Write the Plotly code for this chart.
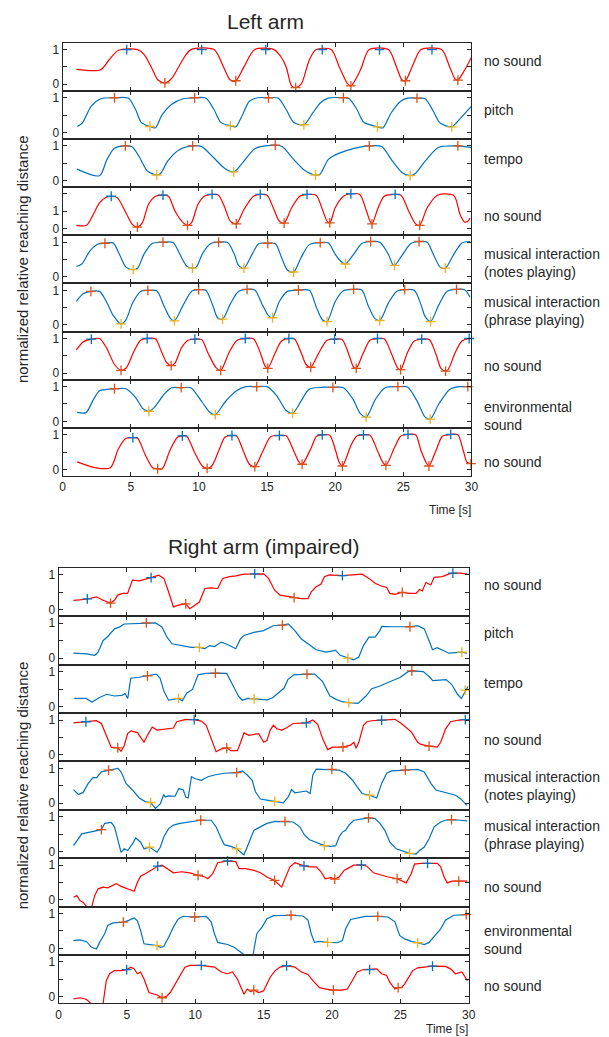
import plotly.graph_objects as go

RED = "#FF0000"
BLUE = "#0072BD"
ORANGE = "#D95319"
YELLOW = "#EDB120"
AXC = "#262626"
FONT = "Liberation Sans, Arial, Helvetica, sans-serif"

# ---------------- LEFT ARM ----------------
L1_t = [1.0, 2.8, 3.4, 4.1, 5.5, 6.0, 6.6, 7.0, 7.5, 8.0, 8.8, 9.4, 11.1, 11.8, 12.3, 12.7, 13.3, 14.1, 15.5, 16.0, 16.4, 16.8, 17.1, 17.5, 18.1, 18.6, 19.7, 20.3, 20.9, 21.15, 21.85, 22.5, 23.9, 24.5, 24.9, 25.15, 25.75, 26.3, 27.8, 28.4, 28.8, 29.0, 29.5, 30.0]
L1_y = [0.43, 0.42, 0.7, 0.98, 1.0, 0.85, 0.41, 0.12, 0.04, 0.17, 0.7, 1.0, 1.0, 0.5, 0.12, 0.1, 0.5, 1.0, 1.0, 0.8, 0.5, -0.05, -0.1, 0.0, 0.7, 1.0, 1.0, 0.5, 0.02, -0.05, 0.41, 1.0, 1.0, 0.5, 0.12, 0.1, 0.6, 1.0, 1.0, 0.5, 0.15, 0.12, 0.41, 0.78]
L1_pk_t = [4.7, 10.2, 14.9, 19.05, 23.25, 27.1]
L1_pk_y = [1.0, 1.0, 1.0, 1.0, 1.0, 1.0]
L1_tr_t = [7.5, 12.7, 17.1, 21.15, 25.15, 29.0]
L1_tr_y = [0.04, 0.1, -0.1, -0.05, 0.1, 0.12]

L2_t = [1.06, 1.43, 2.1, 2.8, 3.8, 4.8, 5.35, 5.76, 6.4, 6.8, 7.3, 8.0, 8.84, 9.68, 10.5, 11.1, 11.6, 12.3, 12.7, 13.2, 13.7, 14.3, 15.1, 15.8, 16.4, 16.95, 17.7, 18.35, 18.9, 19.5, 20.6, 21.0, 21.6, 22.1, 23.1, 23.5, 24.1, 24.8, 25.3, 26.0, 26.6, 27.2, 27.7, 28.56, 29.1, 30.0]
L2_y = [0.17, 0.27, 0.76, 0.97, 1.0, 0.99, 0.66, 0.29, 0.17, 0.13, 0.51, 0.81, 0.97, 1.0, 0.99, 0.66, 0.29, 0.19, 0.16, 0.51, 0.9, 1.0, 1.0, 0.99, 0.66, 0.29, 0.22, 0.56, 0.85, 0.99, 1.0, 0.98, 0.66, 0.29, 0.16, 0.13, 0.56, 0.9, 0.99, 0.99, 0.97, 0.61, 0.27, 0.16, 0.37, 0.76]
L2_pk_t = [3.8, 9.68, 15.1, 20.6, 26.0]
L2_pk_y = [1.0, 1.0, 1.0, 1.0, 0.99]
L2_tr_t = [6.4, 12.3, 17.7, 23.1, 28.56]
L2_tr_y = [0.17, 0.19, 0.22, 0.16, 0.16]

L3_t = [1.06, 2.7, 3.25, 3.8, 4.6, 5.06, 5.6, 6.2, 6.9, 7.2, 7.7, 8.56, 9.54, 10.2, 11.1, 11.9, 12.55, 13.2, 14.15, 15.6, 16.1, 16.95, 17.8, 18.55, 18.9, 19.5, 20.3, 21.4, 22.5, 23.4, 24.2, 24.9, 25.5, 25.9, 26.6, 27.6, 29.0, 30.0]
L3_y = [0.33, 0.14, 0.61, 0.93, 1.0, 0.98, 0.7, 0.28, 0.16, 0.21, 0.56, 0.89, 1.0, 0.98, 0.65, 0.35, 0.25, 0.51, 0.93, 1.02, 0.98, 0.61, 0.28, 0.16, 0.19, 0.61, 0.79, 0.93, 1.0, 0.98, 0.56, 0.23, 0.14, 0.21, 0.56, 0.96, 1.0, 0.95]
L3_pk_t = [4.6, 9.54, 15.6, 22.5, 29.0]
L3_pk_y = [1.0, 1.0, 1.02, 1.0, 1.0]
L3_tr_t = [6.9, 12.55, 18.55, 25.5]
L3_tr_y = [0.16, 0.25, 0.16, 0.14]

L4_t = [1.0, 1.75, 2.24, 2.7, 3.2, 3.56, 4.0, 4.64, 5.12, 5.48, 5.84, 6.3, 6.8, 7.36, 7.76, 8.25, 8.85, 9.16, 9.45, 9.93, 10.4, 10.96, 11.4, 11.85, 12.3, 12.74, 13.3, 14.0, 14.5, 15.0, 15.45, 15.9, 16.25, 16.8, 17.4, 17.93, 18.6, 19.06, 19.4, 19.6, 20.0, 20.6, 21.15, 21.8, 22.3, 22.55, 22.7, 23.15, 23.6, 24.4, 24.83, 25.4, 25.9, 26.2, 26.75, 27.5, 28.7, 29.16, 29.5, 29.75, 29.9]
L4_y = [0.2, 0.2, 0.82, 1.48, 1.8, 1.86, 1.78, 0.92, 0.24, 0.1, 0.34, 1.4, 1.86, 1.92, 1.86, 1.0, 0.34, 0.2, 0.34, 1.4, 1.86, 1.96, 1.94, 1.3, 0.44, 0.28, 1.1, 1.86, 1.96, 1.92, 1.2, 0.44, 0.32, 1.2, 1.86, 1.96, 1.92, 1.1, 0.44, 0.34, 1.2, 1.86, 2.0, 1.96, 1.0, 0.44, 0.28, 1.2, 1.86, 1.96, 1.92, 1.0, 0.28, 0.2, 1.2, 1.92, 1.9, 0.82, 0.38, 0.44, 0.62]
L4_pk_t = [3.56, 7.36, 10.96, 14.5, 17.93, 21.15, 24.4]
L4_pk_y = [1.86, 1.92, 1.96, 1.96, 1.96, 2.0, 1.96]
L4_tr_t = [5.48, 9.16, 12.74, 16.25, 19.6, 22.7, 26.2]
L4_tr_y = [0.1, 0.2, 0.28, 0.32, 0.34, 0.28, 0.2]

L5_t = [1.0, 1.4, 2.0, 2.6, 3.1, 3.7, 4.16, 4.64, 5.17, 5.5, 5.96, 6.56, 7.36, 8.1, 8.6, 9.1, 9.52, 9.8, 10.3, 10.9, 11.44, 12.1, 12.6, 12.9, 13.3, 13.9, 14.4, 15.05, 15.6, 16.06, 16.5, 16.95, 17.5, 18.1, 18.9, 19.5, 20.0, 20.5, 20.75, 21.35, 21.95, 22.6, 23.27, 23.9, 24.2, 24.35, 24.95, 25.55, 26.15, 26.75, 27.2, 27.7, 28.08, 28.7, 29.3, 29.9]
L5_y = [0.3, 0.37, 0.75, 0.95, 0.97, 0.98, 0.65, 0.28, 0.21, 0.25, 0.65, 0.96, 1.0, 0.99, 0.65, 0.31, 0.25, 0.28, 0.7, 0.97, 1.0, 0.99, 0.65, 0.33, 0.25, 0.65, 0.96, 0.97, 0.96, 0.56, 0.19, 0.14, 0.56, 0.93, 0.99, 0.98, 0.65, 0.42, 0.37, 0.65, 0.96, 1.02, 1.0, 0.65, 0.37, 0.33, 0.65, 0.96, 1.02, 1.0, 0.65, 0.28, 0.25, 0.65, 0.98, 1.02]
L5_pk_t = [3.1, 7.36, 11.44, 15.05, 18.9, 22.6, 26.15]
L5_pk_y = [0.97, 1.0, 1.0, 0.97, 0.99, 1.02, 1.02]
L5_tr_t = [5.17, 9.52, 13.3, 16.95, 20.75, 24.35, 28.08]
L5_tr_y = [0.21, 0.25, 0.25, 0.14, 0.37, 0.33, 0.25]

L6_t = [1.0, 1.5, 2.07, 2.7, 3.2, 3.68, 4.28, 4.64, 5.12, 5.72, 6.25, 6.9, 7.4, 7.9, 8.2, 8.85, 9.45, 9.98, 10.5, 11.0, 11.37, 11.73, 12.33, 12.9, 13.53, 14.1, 14.6, 15.1, 15.4, 15.9, 16.5, 17.3, 18.1, 18.6, 19.06, 19.4, 20.0, 20.6, 21.35, 21.95, 22.4, 22.9, 23.27, 23.9, 24.5, 25.1, 25.8, 26.3, 26.6, 27.0, 27.6, 28.2, 28.9, 29.5, 29.9]
L6_y = [0.68, 0.9, 0.97, 0.97, 0.68, 0.29, 0.03, 0.15, 0.63, 0.97, 1.0, 0.99, 0.58, 0.19, 0.12, 0.58, 0.97, 1.02, 1.0, 0.58, 0.21, 0.17, 0.63, 0.97, 1.03, 1.01, 0.63, 0.27, 0.21, 0.68, 0.97, 1.01, 1.0, 0.53, 0.15, 0.1, 0.68, 0.99, 1.03, 1.01, 0.58, 0.19, 0.13, 0.63, 0.97, 1.02, 1.0, 0.58, 0.24, 0.1, 0.58, 0.97, 1.03, 1.02, 0.8]
L6_pk_t = [2.07, 6.25, 9.98, 13.53, 17.3, 21.35, 25.1, 28.9]
L6_pk_y = [0.97, 1.0, 1.02, 1.03, 1.01, 1.03, 1.02, 1.03]
L6_tr_t = [4.28, 8.2, 11.73, 15.4, 19.4, 23.27, 27.0]
L6_tr_y = [0.03, 0.12, 0.17, 0.21, 0.1, 0.13, 0.1]

L7_t = [1.0, 1.5, 2.1, 2.7, 3.2, 3.8, 4.28, 4.64, 5.24, 5.72, 6.2, 6.8, 7.28, 7.64, 7.96, 8.25, 8.73, 9.2, 9.7, 10.2, 10.65, 11.25, 11.6, 12.2, 12.8, 13.4, 14.0, 14.5, 14.86, 15.05, 15.6, 16.06, 16.6, 17.0, 17.5, 17.86, 18.2, 18.8, 19.4, 19.95, 20.5, 21.0, 21.35, 21.54, 22.07, 22.55, 23.1, 23.6, 24.1, 24.6, 24.8, 25.3, 25.8, 26.35, 26.9, 27.4, 27.76, 28.1, 28.3, 28.8, 29.3, 29.83, 29.95]
L7_y = [0.67, 0.9, 0.98, 1.0, 0.74, 0.25, 0.08, 0.14, 0.64, 0.95, 1.0, 0.99, 0.59, 0.3, 0.22, 0.3, 0.74, 0.95, 0.98, 0.97, 0.59, 0.16, 0.08, 0.59, 0.95, 1.0, 0.99, 0.59, 0.2, 0.14, 0.59, 0.93, 1.0, 0.99, 0.59, 0.25, 0.17, 0.59, 0.95, 0.98, 0.97, 0.54, 0.17, 0.14, 0.59, 0.95, 1.0, 0.99, 0.59, 0.14, 0.1, 0.59, 0.93, 0.98, 0.97, 0.54, 0.14, 0.06, 0.11, 0.59, 0.93, 1.0, 1.0]
L7_pk_t = [2.1, 6.2, 9.7, 13.4, 16.6, 19.95, 23.1, 26.35, 29.83]
L7_pk_y = [0.98, 1.0, 0.98, 1.0, 1.0, 0.98, 1.0, 0.98, 1.0]
L7_tr_t = [4.28, 7.96, 11.6, 15.05, 18.2, 21.54, 24.8, 28.1]
L7_tr_y = [0.08, 0.22, 0.08, 0.14, 0.17, 0.14, 0.1, 0.06]

L8_t = [1.06, 1.7, 2.27, 2.7, 3.25, 3.8, 4.64, 5.34, 5.9, 6.32, 6.74, 7.44, 8.0, 8.7, 9.4, 10.24, 10.8, 11.2, 11.9, 12.75, 13.45, 14.24, 15.0, 15.7, 16.4, 16.87, 17.5, 18.07, 18.9, 19.83, 20.6, 21.3, 21.85, 22.27, 22.96, 23.66, 24.6, 25.3, 26.0, 26.6, 26.97, 27.6, 28.4, 29.1, 29.73, 30.0]
L8_y = [0.26, 0.25, 0.64, 0.88, 0.92, 0.94, 0.94, 0.69, 0.36, 0.29, 0.41, 0.78, 0.97, 0.97, 0.97, 0.55, 0.26, 0.19, 0.55, 0.88, 1.0, 1.0, 1.0, 0.74, 0.31, 0.23, 0.59, 0.92, 0.98, 0.98, 0.97, 0.64, 0.22, 0.12, 0.64, 0.97, 1.0, 0.99, 0.59, 0.12, 0.06, 0.5, 0.92, 1.0, 1.0, 1.0]
L8_pk_t = [3.8, 8.7, 14.24, 19.83, 24.6, 29.73]
L8_pk_y = [0.94, 0.97, 1.0, 0.98, 1.0, 1.0]
L8_tr_t = [6.32, 11.2, 16.87, 22.27, 26.97]
L8_tr_y = [0.29, 0.19, 0.23, 0.12, 0.06]

L9_t = [1.06, 2.4, 3.5, 4.08, 4.64, 5.15, 5.5, 6.04, 6.6, 6.97, 7.3, 7.86, 8.42, 8.78, 9.1, 9.68, 10.24, 10.6, 10.94, 11.5, 11.9, 12.42, 12.75, 13.3, 13.7, 14.1, 14.7, 15.27, 15.9, 16.4, 16.95, 17.37, 17.57, 18.2, 18.63, 19.05, 19.6, 20.03, 20.3, 20.53, 21.15, 21.57, 22.07, 22.55, 23.1, 23.5, 23.72, 24.36, 24.8, 25.34, 25.9, 26.3, 26.74, 26.88, 27.44, 27.86, 28.48, 29.0, 29.4, 29.68, 29.96]
L9_y = [0.22, 0.05, 0.05, 0.59, 0.9, 0.92, 0.9, 0.44, 0.05, 0.02, 0.02, 0.54, 0.93, 0.97, 0.96, 0.49, 0.1, 0.03, 0.1, 0.59, 0.93, 0.98, 0.97, 0.49, 0.15, 0.08, 0.54, 0.95, 0.98, 0.97, 0.54, 0.2, 0.15, 0.59, 0.96, 1.0, 0.99, 0.54, 0.2, 0.1, 0.69, 0.96, 1.0, 0.99, 0.54, 0.2, 0.12, 0.64, 0.96, 1.01, 1.0, 0.54, 0.15, 0.1, 0.59, 0.96, 1.01, 1.0, 0.54, 0.2, 0.17]
L9_pk_t = [5.15, 8.78, 12.42, 15.9, 19.05, 22.07, 25.34, 28.48]
L9_pk_y = [0.92, 0.97, 0.98, 0.98, 1.0, 1.0, 1.01, 1.01]
L9_tr_t = [6.97, 10.6, 14.1, 17.57, 20.53, 23.72, 26.88, 29.96]
L9_tr_y = [0.02, 0.03, 0.08, 0.15, 0.1, 0.12, 0.1, 0.17]

# ---------------- RIGHT ARM (IMPAIRED) ----------------
R1_t = [1.09, 2.05, 2.77, 3.25, 3.8, 4.09, 4.33, 4.7, 5.05, 5.4, 5.9, 6.37, 6.77, 7.33, 7.7, 8.05, 8.4, 8.76, 9.3, 9.6, 9.96, 10.3, 10.7, 11.16, 11.64, 12.0, 12.5, 12.96, 13.56, 14.35, 15.0, 15.36, 15.8, 16.2, 16.7, 17.23, 17.76, 18.24, 18.48, 18.84, 19.2, 19.44, 19.8, 20.76, 21.47, 22.2, 22.7, 23.15, 23.6, 24.0, 24.23, 24.6, 25.14, 25.67, 26.15, 26.4, 26.6, 26.87, 27.23, 27.47, 28.07, 28.55, 28.84, 29.4, 29.87]
R1_y = [0.27, 0.3, 0.37, 0.27, 0.19, 0.27, 0.42, 0.47, 0.47, 0.85, 0.83, 0.87, 0.92, 0.99, 0.9, 0.51, 0.08, 0.13, 0.17, 0.03, 0.13, 0.22, 0.61, 0.63, 0.61, 0.9, 0.95, 0.97, 1.02, 1.03, 1.03, 0.9, 0.56, 0.42, 0.39, 0.35, 0.32, 0.32, 0.51, 0.66, 0.74, 0.95, 1.0, 0.98, 1.0, 1.02, 0.9, 0.76, 0.68, 0.64, 0.47, 0.44, 0.5, 0.47, 0.47, 0.58, 0.54, 0.78, 0.71, 0.93, 0.95, 1.03, 1.05, 1.05, 1.02]
R1_pk_t = [2.1, 6.77, 14.35, 20.76, 28.84]
R1_pk_y = [0.31, 0.92, 1.03, 0.98, 1.05]
R1_tr_t = [3.8, 9.3, 17.23, 25.14]
R1_tr_y = [0.19, 0.17, 0.35, 0.5]

R2_t = [1.09, 2.05, 2.65, 2.89, 3.25, 3.6, 4.09, 4.45, 4.8, 5.65, 6.42, 7.09, 7.57, 7.93, 8.3, 9.0, 9.7, 10.3, 10.7, 11.05, 11.4, 11.9, 12.36, 12.96, 13.3, 13.56, 14.28, 15.0, 15.7, 16.37, 16.8, 17.28, 17.76, 18.24, 18.84, 19.56, 20.27, 20.6, 21.16, 21.6, 21.96, 22.3, 22.7, 23.15, 23.5, 23.63, 24.35, 25.7, 26.27, 26.75, 27.1, 27.35, 27.7, 28.07, 28.55, 29.5, 29.87]
R2_y = [0.14, 0.12, 0.08, 0.17, 0.5, 0.62, 0.84, 0.89, 0.98, 0.99, 1.01, 1.01, 0.89, 0.6, 0.41, 0.36, 0.31, 0.31, 0.27, 0.36, 0.33, 0.46, 0.39, 0.27, 0.55, 0.65, 0.74, 0.79, 0.93, 0.95, 0.98, 0.79, 0.55, 0.41, 0.24, 0.17, 0.22, 0.08, 0.0, -0.05, 0.03, 0.36, 0.6, 0.6, 0.79, 0.91, 0.9, 0.9, 0.93, 0.84, 0.5, 0.24, 0.3, 0.24, 0.14, 0.17, 0.14]
R2_pk_t = [6.42, 16.37, 25.7]
R2_pk_y = [1.01, 0.95, 0.9]
R2_tr_t = [10.3, 21.16, 29.5]
R2_tr_y = [0.31, 0.0, 0.17]

R3_t = [1.15, 2.0, 2.46, 2.96, 3.52, 4.08, 4.64, 4.86, 5.06, 5.28, 5.9, 6.5, 6.87, 7.15, 7.43, 7.7, 8.04, 8.4, 8.77, 9.05, 9.38, 9.8, 10.2, 10.77, 11.47, 12.3, 12.74, 13.15, 13.43, 13.85, 14.3, 14.82, 15.25, 15.66, 16.07, 16.5, 16.77, 17.2, 18.17, 18.73, 19.3, 19.85, 20.26, 20.8, 21.23, 21.9, 22.49, 22.9, 23.46, 24.16, 25.0, 25.56, 25.84, 26.67, 27.1, 27.37, 28.34, 28.76, 29.18, 29.46, 29.74, 29.96]
R3_y = [0.23, 0.23, 0.13, 0.25, 0.35, 0.3, 0.32, 0.37, 0.23, 0.81, 0.84, 0.88, 0.91, 0.93, 0.81, 0.44, 0.18, 0.21, 0.23, 0.16, 0.39, 0.49, 0.91, 0.95, 0.96, 0.95, 0.63, 0.3, 0.18, 0.23, 0.22, 0.21, 0.19, 0.25, 0.39, 0.53, 0.77, 0.91, 0.93, 0.93, 0.72, 0.3, 0.21, 0.13, 0.11, 0.09, 0.3, 0.51, 0.58, 0.69, 0.84, 1.0, 1.02, 1.0, 0.86, 0.74, 0.77, 0.63, 0.35, 0.23, 0.42, 0.58]
R3_pk_t = [6.5, 11.47, 18.17, 25.84]
R3_pk_y = [0.88, 0.96, 0.93, 1.02]
R3_tr_t = [8.77, 14.3, 21.23, 29.74]
R3_tr_y = [0.23, 0.22, 0.11, 0.47]

R4_t = [1.09, 2.0, 2.77, 3.13, 3.5, 3.85, 4.33, 4.57, 4.8, 5.05, 5.3, 5.77, 6.08, 6.25, 6.5, 6.85, 7.2, 7.8, 8.4, 8.64, 9.24, 9.92, 10.44, 10.8, 11.16, 11.52, 11.9, 12.3, 12.6, 13.08, 13.32, 13.56, 13.92, 14.28, 14.64, 15.0, 15.24, 15.48, 15.72, 15.96, 16.32, 16.68, 17.16, 18.12, 18.6, 18.96, 19.32, 19.68, 20.04, 20.8, 21.35, 21.6, 21.76, 21.96, 22.3, 22.55, 22.9, 23.63, 24.6, 25.07, 25.8, 26.27, 26.5, 27.1, 27.7, 27.95, 28.3, 28.67, 29.27, 29.75, 29.9]
R4_y = [0.92, 0.95, 0.98, 0.9, 0.56, 0.22, 0.2, 0.1, 0.26, 0.61, 0.69, 0.64, 0.46, 0.36, 0.56, 0.8, 0.71, 0.74, 0.77, 0.95, 1.01, 1.01, 0.97, 0.85, 0.46, 0.09, 0.17, 0.2, 0.12, 0.12, 0.36, 0.63, 0.56, 0.58, 0.61, 0.36, 0.41, 0.71, 0.85, 0.75, 0.71, 0.78, 0.9, 0.92, 1.0, 0.87, 0.46, 0.15, 0.22, 0.22, 0.28, 0.36, 0.19, 0.36, 0.85, 0.95, 0.98, 1.0, 1.02, 0.9, 0.66, 0.36, 0.3, 0.25, 0.22, 0.36, 0.74, 0.95, 1.0, 1.01, 1.01]
R4_pk_t = [2.0, 9.92, 18.12, 23.63, 29.75]
R4_pk_y = [0.95, 1.01, 0.92, 1.0, 1.01]
R4_tr_t = [4.33, 12.3, 20.8, 27.1]
R4_tr_y = [0.2, 0.2, 0.22, 0.25]

R5_t = [1.09, 1.45, 1.8, 2.17, 2.53, 2.77, 3.13, 3.66, 4.33, 4.57, 4.93, 5.4, 5.9, 6.37, 6.73, 7.09, 7.45, 7.69, 7.8, 8.05, 8.52, 8.8, 9.12, 9.3, 9.48, 9.72, 9.96, 10.44, 10.92, 11.4, 12.12, 13.03, 13.44, 13.8, 14.16, 14.4, 14.76, 15.24, 15.8, 16.44, 16.8, 17.04, 17.28, 17.64, 18.12, 18.4, 18.6, 18.84, 19.44, 19.99, 20.52, 21.0, 21.5, 21.84, 22.2, 22.75, 23.27, 23.63, 24.0, 24.35, 25.36, 26.27, 26.75, 27.23, 27.6, 28.07, 28.67, 29.03, 29.4, 29.87]
R5_y = [0.39, 0.25, 0.31, 0.57, 0.74, 0.73, 0.9, 0.95, 1.0, 0.9, 0.57, 0.38, 0.15, 0.04, 0.02, -0.15, -0.01, 0.25, 0.18, 0.21, 0.2, 0.42, 0.38, 0.18, 0.15, 0.76, 0.71, 0.66, 0.76, 0.81, 0.86, 0.88, 0.93, 0.81, 0.66, 0.33, 0.12, 0.09, 0.05, 0.01, 0.18, 0.39, 0.3, 0.33, 0.35, 0.28, 0.81, 0.98, 0.97, 0.97, 0.95, 0.86, 0.66, 0.47, 0.28, 0.23, 0.15, 0.57, 0.86, 0.93, 0.95, 0.97, 0.9, 0.57, 0.38, 0.33, 0.28, 0.23, 0.13, -0.06]
R5_pk_t = [3.66, 13.03, 19.99, 25.36]
R5_pk_y = [0.95, 0.88, 0.97, 0.95]
R5_tr_t = [6.73, 15.8, 22.75]
R5_tr_y = [0.02, 0.05, 0.23]

R6_t = [1.09, 1.45, 1.7, 2.29, 2.77, 3.13, 3.37, 3.85, 4.09, 4.33, 4.57, 4.8, 5.05, 5.4, 5.65, 6.0, 6.25, 6.65, 6.97, 7.2, 7.45, 7.69, 8.05, 8.4, 8.88, 9.48, 9.96, 10.4, 11.16, 11.52, 11.9, 12.12, 12.6, 13.03, 13.32, 13.56, 13.8, 14.04, 14.28, 14.76, 15.24, 15.84, 16.56, 17.16, 17.64, 18.0, 18.36, 18.84, 19.44, 19.92, 20.27, 20.52, 20.76, 21.0, 21.24, 21.6, 22.2, 22.67, 23.15, 23.5, 23.87, 24.23, 24.7, 25.67, 26.15, 26.4, 26.75, 27.1, 27.47, 27.95, 28.3, 28.74, 29.4, 29.9]
R6_y = [0.17, 0.37, 0.51, 0.56, 0.59, 0.63, 0.81, 0.84, 0.71, 0.32, -0.02, 0.08, 0.03, 0.22, 0.39, 0.27, 0.08, 0.13, 0.05, -0.02, 0.13, 0.42, 0.66, 0.76, 0.81, 0.85, 0.88, 0.9, 0.9, 0.71, 0.37, 0.2, 0.15, 0.08, -0.02, -0.09, 0.13, 0.37, 0.61, 0.71, 0.81, 0.87, 0.87, 0.85, 0.71, 0.47, 0.34, 0.27, 0.17, 0.15, 0.17, 0.42, 0.56, 0.61, 0.76, 0.9, 0.95, 0.97, 0.95, 0.81, 0.61, 0.27, 0.08, -0.05, -0.07, 0.03, 0.13, 0.37, 0.71, 0.85, 0.9, 0.92, 0.9, 0.88]
R6_pk_t = [3.13, 10.4, 16.56, 22.67, 28.74]
R6_pk_y = [0.63, 0.9, 0.87, 0.97, 0.92]
R6_tr_t = [6.65, 13.03, 19.44, 25.67]
R6_tr_y = [0.13, 0.08, 0.17, -0.05]

R7_t = [1.09, 1.33, 1.57, 1.8, 2.05, 2.2, 2.41, 2.65, 2.89, 3.25, 3.6, 3.85, 4.21, 4.57, 5.05, 5.53, 5.77, 6.0, 6.37, 6.73, 7.25, 7.57, 7.93, 8.4, 9.0, 9.6, 10.2, 10.7, 10.92, 11.28, 11.64, 12.0, 12.36, 12.96, 13.2, 13.68, 14.28, 14.76, 15.24, 15.8, 16.08, 16.32, 16.56, 16.92, 17.28, 17.76, 17.95, 18.36, 18.84, 19.2, 19.5, 19.92, 20.2, 20.52, 20.88, 21.12, 21.6, 22.15, 22.55, 23.03, 23.63, 24.1, 24.76, 25.2, 25.43, 25.8, 26.03, 26.5, 26.99, 27.7, 27.95, 28.2, 28.43, 28.8, 29.27, 29.9]
R7_y = [0.08, 0.13, -0.02, -0.07, -0.19, -0.26, -0.21, 0.13, 0.32, 0.37, 0.35, 0.39, 0.47, 0.39, 0.32, 0.25, 0.51, 0.68, 0.76, 0.85, 0.97, 1.0, 0.9, 0.78, 0.81, 0.78, 0.71, 0.66, 0.61, 0.76, 1.07, 1.1, 1.12, 1.1, 0.9, 0.9, 0.85, 0.78, 0.66, 0.56, 0.45, 0.37, 0.61, 0.95, 1.07, 1.0, 0.98, 0.95, 0.95, 0.81, 0.61, 0.64, 0.6, 0.66, 0.85, 0.9, 1.0, 1.01, 0.97, 0.78, 0.71, 0.66, 0.61, 0.54, 0.49, 0.76, 1.03, 1.05, 1.05, 1.05, 0.95, 0.66, 0.49, 0.54, 0.54, 0.54]
R7_pk_t = [7.25, 12.36, 17.95, 22.15, 26.99]
R7_pk_y = [0.97, 1.12, 0.98, 1.01, 1.05]
R7_tr_t = [10.2, 15.8, 20.2, 24.76, 29.27]
R7_tr_y = [0.71, 0.56, 0.6, 0.61, 0.54]

R8_t = [1.09, 1.57, 2.05, 2.41, 2.77, 3.0, 3.37, 3.6, 3.97, 4.33, 4.74, 5.17, 5.53, 5.77, 6.0, 6.25, 6.61, 7.2, 7.45, 7.69, 8.05, 8.4, 8.76, 9.12, 9.96, 10.8, 11.16, 11.4, 11.64, 12.0, 12.36, 12.84, 13.2, 13.56, 13.92, 14.23, 14.5, 14.88, 15.24, 15.72, 17.0, 17.88, 18.24, 18.48, 18.72, 19.08, 19.68, 20.4, 20.76, 21.0, 21.36, 21.84, 22.44, 23.35, 24.1, 24.6, 24.95, 25.31, 25.8, 26.27, 26.75, 27.1, 27.59, 27.95, 28.3, 28.9, 29.82, 29.9]
R8_y = [0.22, 0.24, 0.19, 0.03, -0.02, 0.17, 0.42, 0.66, 0.73, 0.74, 0.75, 0.81, 0.87, 0.79, 0.51, 0.13, 0.11, 0.08, 0.03, 0.05, 0.32, 0.61, 0.85, 0.92, 0.9, 0.92, 0.76, 0.42, 0.17, 0.13, 0.11, 0.03, -0.07, -0.18, -0.24, -0.17, 0.42, 0.61, 0.85, 0.94, 0.95, 0.93, 0.81, 0.42, 0.17, 0.2, 0.17, 0.16, 0.22, 0.56, 0.83, 0.88, 0.92, 0.92, 0.9, 0.76, 0.37, 0.27, 0.2, 0.16, 0.11, 0.17, 0.4, 0.56, 0.81, 0.95, 0.97, 0.97]
R8_pk_t = [4.74, 9.96, 17.0, 23.35, 29.82]
R8_pk_y = [0.75, 0.9, 0.95, 0.92, 0.97]
R8_tr_t = [7.2, 19.68, 26.27]
R8_tr_y = [0.08, 0.17, 0.16]

R9_t = [1.09, 1.57, 2.05, 2.41, 3.0, 3.25, 3.49, 3.73, 4.09, 4.57, 4.98, 5.29, 5.53, 5.77, 6.0, 6.25, 6.61, 6.85, 7.2, 7.57, 7.93, 8.17, 8.52, 8.88, 9.24, 9.6, 10.44, 11.4, 11.9, 12.36, 12.72, 13.08, 13.32, 13.56, 13.8, 14.04, 14.28, 14.64, 15.0, 15.24, 15.48, 15.84, 16.2, 16.68, 17.28, 17.76, 18.24, 18.6, 19.08, 19.56, 20.1, 20.76, 21.12, 21.48, 21.84, 22.3, 22.75, 23.27, 23.63, 24.0, 24.23, 24.6, 24.84, 25.07, 25.31, 25.55, 25.9, 26.27, 27.35, 28.3, 28.67, 29.03, 29.5, 29.9]
R9_y = [-0.06, -0.03, -0.08, -0.21, -0.32, -0.21, 0.46, 0.66, 0.75, 0.75, 0.78, 0.85, 0.8, 0.66, 0.71, 0.51, 0.12, 0.09, 0.05, -0.03, 0.02, 0.12, 0.36, 0.61, 0.85, 0.9, 0.9, 0.85, 0.71, 0.66, 0.71, 0.51, 0.26, 0.07, 0.22, 0.15, 0.19, 0.12, 0.17, 0.36, 0.56, 0.75, 0.85, 0.89, 0.85, 0.71, 0.64, 0.46, 0.26, 0.22, 0.19, 0.19, 0.22, 0.46, 0.71, 0.78, 0.78, 0.8, 0.66, 0.61, 0.41, 0.22, 0.26, 0.26, 0.36, 0.51, 0.75, 0.83, 0.88, 0.87, 0.8, 0.66, 0.71, 0.46]
R9_pk_t = [4.98, 10.44, 16.68, 22.75, 27.35]
R9_pk_y = [0.78, 0.9, 0.89, 0.78, 0.88]
R9_tr_t = [7.57, 14.28, 20.1, 24.84]
R9_tr_y = [-0.03, 0.19, 0.19, 0.26]

condition_labels = ["no sound", "pitch", "tempo", "no sound",
                    "musical interaction<br>(notes playing)",
                    "musical interaction<br>(phrase playing)",
                    "no sound", "environmental<br>sound", "no sound"]
is_no_sound = [True, False, False, True, False, False, True, False, True]
x_ticks = [0, 5, 10, 15, 20, 25, 30]
section_titles = ["Left arm", "Right arm (impaired)"]
y_title = "normalized relative reaching distance"
x_title = "Time [s]"

left_panels = [
    (L1_t, L1_y, L1_pk_t, L1_pk_y, L1_tr_t, L1_tr_y),
    (L2_t, L2_y, L2_pk_t, L2_pk_y, L2_tr_t, L2_tr_y),
    (L3_t, L3_y, L3_pk_t, L3_pk_y, L3_tr_t, L3_tr_y),
    (L4_t, L4_y, L4_pk_t, L4_pk_y, L4_tr_t, L4_tr_y),
    (L5_t, L5_y, L5_pk_t, L5_pk_y, L5_tr_t, L5_tr_y),
    (L6_t, L6_y, L6_pk_t, L6_pk_y, L6_tr_t, L6_tr_y),
    (L7_t, L7_y, L7_pk_t, L7_pk_y, L7_tr_t, L7_tr_y),
    (L8_t, L8_y, L8_pk_t, L8_pk_y, L8_tr_t, L8_tr_y),
    (L9_t, L9_y, L9_pk_t, L9_pk_y, L9_tr_t, L9_tr_y),
]
right_panels = [
    (R1_t, R1_y, R1_pk_t, R1_pk_y, R1_tr_t, R1_tr_y),
    (R2_t, R2_y, R2_pk_t, R2_pk_y, R2_tr_t, R2_tr_y),
    (R3_t, R3_y, R3_pk_t, R3_pk_y, R3_tr_t, R3_tr_y),
    (R4_t, R4_y, R4_pk_t, R4_pk_y, R4_tr_t, R4_tr_y),
    (R5_t, R5_y, R5_pk_t, R5_pk_y, R5_tr_t, R5_tr_y),
    (R6_t, R6_y, R6_pk_t, R6_pk_y, R6_tr_t, R6_tr_y),
    (R7_t, R7_y, R7_pk_t, R7_pk_y, R7_tr_t, R7_tr_y),
    (R8_t, R8_y, R8_pk_t, R8_pk_y, R8_tr_t, R8_tr_y),
    (R9_t, R9_y, R9_pk_t, R9_pk_y, R9_tr_t, R9_tr_y),
]
for p in left_panels + right_panels:
    assert len(p[0]) == len(p[1]) and len(p[2]) == len(p[3]) and len(p[4]) == len(p[5])

# ---------------- geometry (pixels) ----------------
W, H = 609, 1037
sections = [
    dict(panels=left_panels, x0=60.7, x1=476.3, top=42.7, ph=48.2, smooth=True,
         title_y=21.5, title_x=267, ytitle_y=259.6, xtitle=(478, 510),
         label_y=[61, 110, 159, 216, 263, 311, 366, 416, 462]),
    dict(panels=right_panels, x0=56.5, x1=473.5, top=568.5, ph=48.42, smooth=False,
         title_y=547, title_x=265, ytitle_y=786.4, xtitle=(475, 1030),
         label_y=[586, 634, 684, 741, 787, 836, 888, 941, 987]),
]

fig = go.Figure()
layout = dict(width=W, height=H, autosize=False, margin=dict(l=0, r=0, t=0, b=0),
              paper_bgcolor="white", plot_bgcolor="white", showlegend=False,
              font=dict(family=FONT, color=AXC, size=12))
annotations = []

n = 0
for s_idx, sec in enumerate(sections):
    for k, (t, y, pkt, pky, trt, try_) in enumerate(sec["panels"]):
        n += 1
        xa = "x" if n == 1 else f"x{n}"
        ya = "y" if n == 1 else f"y{n}"
        line_col = RED if is_no_sound[k] else BLUE
        pk_col = BLUE if is_no_sound[k] else ORANGE
        tr_col = ORANGE if is_no_sound[k] else YELLOW
        fig.add_trace(go.Scatter(
            x=t, y=y, mode="lines", xaxis=xa, yaxis=ya,
            line=dict(color=line_col, width=1.2,
                      shape="spline" if sec["smooth"] else "linear", smoothing=0.8),
            hoverinfo="skip"))
        for mt, my, mc in ((pkt, pky, pk_col), (trt, try_, tr_col)):
            fig.add_trace(go.Scatter(
                x=mt, y=my, mode="markers", xaxis=xa, yaxis=ya, cliponaxis=False,
                marker=dict(symbol="cross-thin", size=7, color=mc,
                            line=dict(color=mc, width=1.3)),
                hoverinfo="skip"))
        top_px = sec["top"] + k * sec["ph"]
        bot_px = top_px + sec["ph"]
        ydom = [1 - bot_px / H, 1 - top_px / H]
        xdom = [sec["x0"] / W, sec["x1"] / W]
        bottom = (k == len(sec["panels"]) - 1)
        common = dict(showline=True, linecolor=AXC, linewidth=1, mirror="ticks",
                      ticks="inside", ticklen=4, tickwidth=1, tickcolor=AXC,
                      showgrid=False, zeroline=False, tickfont=dict(size=12, color=AXC))
        layout["xaxis" if n == 1 else f"xaxis{n}"] = dict(
            anchor=ya, domain=xdom, range=[0, 30], tickvals=x_ticks,
            showticklabels=bottom, **common)
        if s_idx == 0 and k == 3:
            yr, tv, tt = [-0.37, 2.38], [0, 1, 2], ["0", "1", ""]
        else:
            yr, tv, tt = [-0.19, 1.2], [0, 0.5, 1], ["0", "", "1"]
        layout["yaxis" if n == 1 else f"yaxis{n}"] = dict(
            anchor=xa, domain=ydom, range=yr, tickvals=tv, ticktext=tt, **common)
        annotations.append(dict(
            text=condition_labels[k], xref="paper", yref="paper",
            x=487 / W, y=1 - sec["label_y"][k] / H, xanchor="left", yanchor="middle",
            align="left", showarrow=False, font=dict(size=14, color=AXC)))
    annotations.append(dict(
        text=section_titles[s_idx], xref="paper", yref="paper",
        x=sec["title_x"] / W, y=1 - sec["title_y"] / H, xanchor="center", yanchor="middle",
        showarrow=False, font=dict(size=21, color=AXC)))
    annotations.append(dict(
        text=y_title, xref="paper", yref="paper", textangle=-90,
        x=20 / W, y=1 - sec["ytitle_y"] / H, xanchor="center", yanchor="middle",
        showarrow=False, font=dict(size=15, color=AXC)))
    annotations.append(dict(
        text=x_title, xref="paper", yref="paper",
        x=sec["xtitle"][0] / W, y=1 - sec["xtitle"][1] / H, xanchor="right", yanchor="middle",
        showarrow=False, font=dict(size=12, color=AXC)))

layout["annotations"] = annotations
fig.update_layout(**layout)
fig.write_html("out.html", include_plotlyjs=True, config={"displayModeBar": False},
               post_script="document.body.style.margin='0px';")
